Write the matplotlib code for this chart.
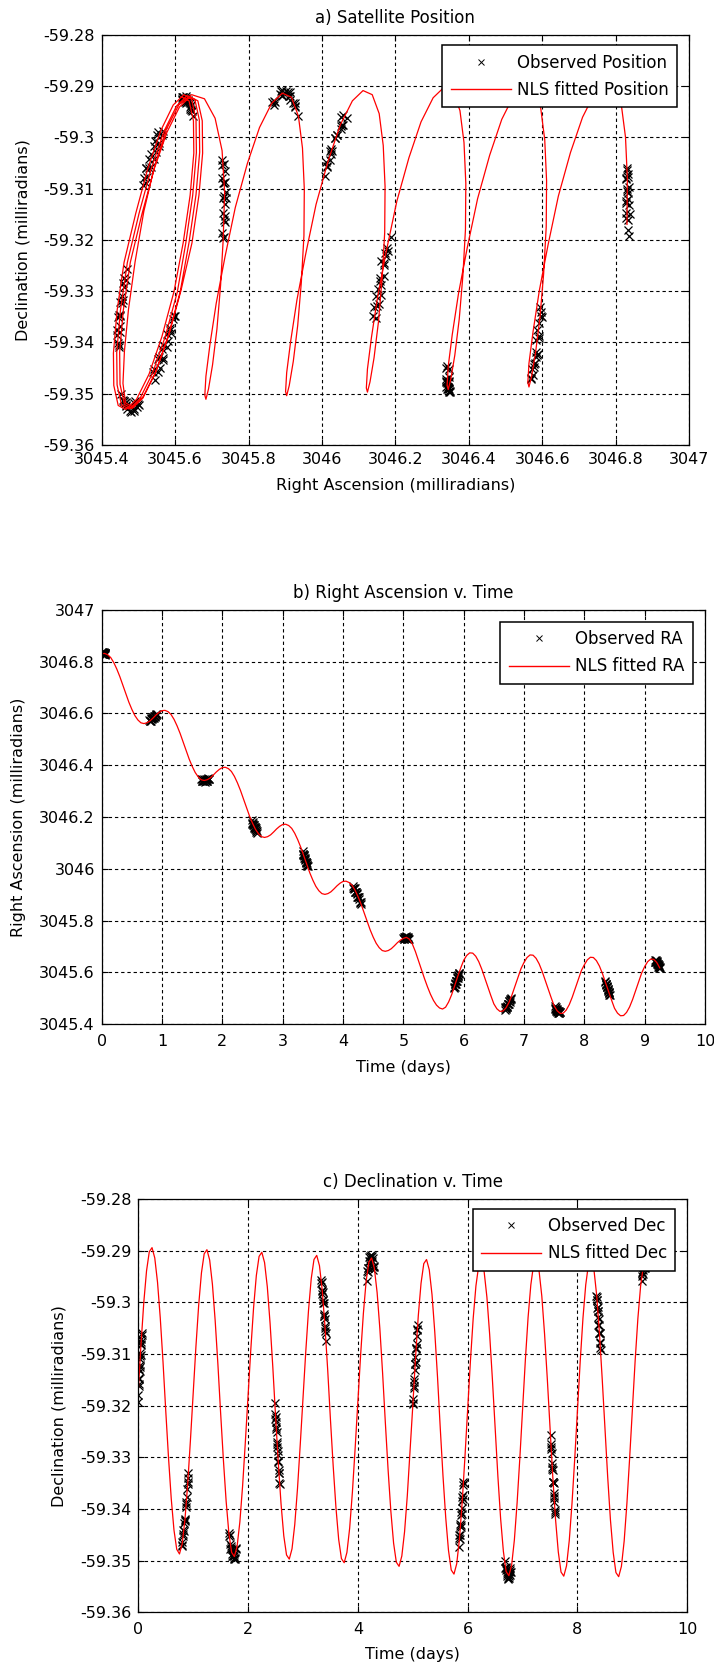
import numpy as np
import matplotlib
matplotlib.use("Agg")
import matplotlib.pyplot as plt
from matplotlib.lines import Line2D

# ---------------------------------------------------------------------------
# Fitted orbit, sampled every 0.05 day from t = 0 to t = 9.25 days
# ---------------------------------------------------------------------------
t_fit = np.linspace(0.0, 9.25, 186)

ra_fit = [
    # day 0
    3046.831, 3046.832, 3046.827, 3046.816, 3046.797, 3046.772, 3046.743, 3046.710, 3046.677, 3046.644,
    3046.616, 3046.592, 3046.575, 3046.564, 3046.561, 3046.564, 3046.571, 3046.582, 3046.594, 3046.604,
    # day 1
    3046.611, 3046.612, 3046.607, 3046.596, 3046.577, 3046.552, 3046.523, 3046.490, 3046.457, 3046.424,
    3046.396, 3046.372, 3046.355, 3046.344, 3046.341, 3046.344, 3046.351, 3046.362, 3046.374, 3046.384,
    # day 2
    3046.391, 3046.392, 3046.387, 3046.376, 3046.357, 3046.332, 3046.303, 3046.270, 3046.237, 3046.204,
    3046.176, 3046.152, 3046.135, 3046.124, 3046.121, 3046.124, 3046.131, 3046.142, 3046.154, 3046.164,
    # day 3
    3046.171, 3046.172, 3046.167, 3046.156, 3046.137, 3046.112, 3046.083, 3046.050, 3046.017, 3045.984,
    3045.956, 3045.932, 3045.915, 3045.904, 3045.901, 3045.904, 3045.911, 3045.922, 3045.934, 3045.944,
    # day 4
    3045.951, 3045.952, 3045.947, 3045.936, 3045.917, 3045.892, 3045.863, 3045.830, 3045.797, 3045.764,
    3045.736, 3045.712, 3045.695, 3045.684, 3045.681, 3045.684, 3045.691, 3045.702, 3045.714, 3045.724,
    # day 5
    3045.731, 3045.735, 3045.728, 3045.709, 3045.680, 3045.645, 3045.610, 3045.576, 3045.544, 3045.515,
    3045.491, 3045.473, 3045.462, 3045.458, 3045.465, 3045.485, 3045.513, 3045.547, 3045.583, 3045.616,
    # day 6
    3045.646, 3045.665, 3045.675, 3045.674, 3045.662, 3045.641, 3045.612, 3045.578, 3045.543, 3045.510,
    3045.478, 3045.459, 3045.449, 3045.450, 3045.462, 3045.483, 3045.512, 3045.546, 3045.581, 3045.614,
    # day 7
    3045.638, 3045.657, 3045.667, 3045.666, 3045.654, 3045.633, 3045.604, 3045.570, 3045.535, 3045.502,
    3045.470, 3045.451, 3045.441, 3045.442, 3045.454, 3045.475, 3045.504, 3045.538, 3045.573, 3045.606,
    # day 8
    3045.629, 3045.648, 3045.658, 3045.657, 3045.645, 3045.624, 3045.595, 3045.561, 3045.526, 3045.493,
    3045.461, 3045.442, 3045.432, 3045.433, 3045.445, 3045.466, 3045.495, 3045.529, 3045.564, 3045.597,
    # day 9
    3045.622, 3045.641, 3045.651, 3045.650, 3045.638, 3045.617,
]

dec_fit = [
    # day 0
    -59.3170, -59.3080, -59.3000, -59.2939, -59.2902, -59.2894, -59.2914, -59.2961, -59.3030, -59.3115,
    -59.3210, -59.3300, -59.3380, -59.3441, -59.3478, -59.3487, -59.3467, -59.3420, -59.3351, -59.3266,
    # day 1
    -59.3175, -59.3085, -59.3005, -59.2943, -59.2906, -59.2898, -59.2918, -59.2965, -59.3035, -59.3120,
    -59.3215, -59.3305, -59.3385, -59.3447, -59.3484, -59.3492, -59.3472, -59.3425, -59.3355, -59.3270,
    # day 2
    -59.3180, -59.3090, -59.3010, -59.2948, -59.2911, -59.2903, -59.2923, -59.2970, -59.3040, -59.3125,
    -59.3220, -59.3310, -59.3390, -59.3452, -59.3489, -59.3497, -59.3477, -59.3430, -59.3360, -59.3275,
    # day 3
    -59.3186, -59.3096, -59.3016, -59.2954, -59.2917, -59.2909, -59.2929, -59.2976, -59.3046, -59.3131,
    -59.3227, -59.3317, -59.3397, -59.3459, -59.3496, -59.3504, -59.3484, -59.3437, -59.3367, -59.3282,
    # day 4
    -59.3192, -59.3101, -59.3021, -59.2959, -59.2922, -59.2914, -59.2934, -59.2981, -59.3051, -59.3137,
    -59.3233, -59.3324, -59.3404, -59.3466, -59.3503, -59.3511, -59.3491, -59.3444, -59.3374, -59.3288,
    # day 5
    -59.3200, -59.3107, -59.3026, -59.2963, -59.2925, -59.2917, -59.2937, -59.2985, -59.3057, -59.3144,
    -59.3243, -59.3336, -59.3417, -59.3480, -59.3518, -59.3526, -59.3506, -59.3458, -59.3386, -59.3299,
    # day 6
    -59.3206, -59.3113, -59.3031, -59.2968, -59.2929, -59.2921, -59.2941, -59.2990, -59.3062, -59.3149,
    -59.3244, -59.3337, -59.3419, -59.3482, -59.3521, -59.3529, -59.3509, -59.3460, -59.3388, -59.3301,
    # day 7
    -59.3205, -59.3112, -59.3029, -59.2966, -59.2927, -59.2919, -59.2939, -59.2988, -59.3061, -59.3148,
    -59.3244, -59.3338, -59.3420, -59.3483, -59.3522, -59.3530, -59.3510, -59.3461, -59.3389, -59.3302,
    # day 8
    -59.3207, -59.3113, -59.3030, -59.2966, -59.2926, -59.2917, -59.2937, -59.2987, -59.3060, -59.3148,
    -59.3244, -59.3338, -59.3421, -59.3484, -59.3523, -59.3531, -59.3511, -59.3462, -59.3389, -59.3301,
    # day 9
    -59.3206, -59.3113, -59.3031, -59.2968, -59.2929, -59.2921,
]

# ---------------------------------------------------------------------------
# Observation passes (time in days, RA and Dec in milliradians)
# ---------------------------------------------------------------------------
obs_t = [
    0.000, 0.007, 0.013, 0.020, 0.027, 0.033, 0.040, 0.047, 0.053, 0.060,
    0.790, 0.803, 0.817, 0.830, 0.843, 0.857, 0.870, 0.883, 0.897, 0.910,
    1.650, 1.664, 1.679, 1.693, 1.708, 1.722, 1.737, 1.751, 1.766, 1.780,
    2.490, 2.499, 2.508, 2.517, 2.526, 2.534, 2.543, 2.552, 2.561, 2.570,
    3.330, 3.339, 3.348, 3.357, 3.366, 3.374, 3.383, 3.392, 3.401, 3.410,
    4.160, 4.176, 4.191, 4.207, 4.222, 4.238, 4.253, 4.269, 4.284, 4.300,
    5.000, 5.010, 5.020, 5.030, 5.040, 5.050, 5.060, 5.070, 5.080, 5.090,
    5.840, 5.849, 5.858, 5.867, 5.876, 5.884, 5.893, 5.902, 5.911, 5.920,
    6.680, 6.691, 6.702, 6.713, 6.724, 6.736, 6.747, 6.758, 6.769, 6.780,
    7.510, 7.519, 7.528, 7.537, 7.546, 7.554, 7.563, 7.572, 7.581, 7.590,
    8.350, 8.358, 8.366, 8.373, 8.381, 8.389, 8.397, 8.404, 8.412, 8.420,
    9.170, 9.179, 9.188, 9.197, 9.206, 9.214, 9.223, 9.232, 9.241, 9.250,
    0.003, 0.010, 0.017, 0.023, 0.030, 0.037, 0.043, 0.050, 0.057, 0.063,
    0.797, 0.810, 0.823, 0.837, 0.850, 0.863, 0.877, 0.890, 0.903, 0.907,
    1.657, 1.671, 1.686, 1.700, 1.715, 1.729, 1.744, 1.758, 1.773, 1.740,
    2.494, 2.503, 2.512, 2.521, 2.530, 2.539, 2.547, 2.556, 2.565, 2.574,
    3.334, 3.343, 3.352, 3.361, 3.370, 3.379, 3.388, 3.397, 3.406, 3.414,
    4.168, 4.184, 4.199, 4.215, 4.230, 4.246, 4.261, 4.277, 4.292, 4.226,
    5.005, 5.015, 5.025, 5.035, 5.045, 5.055, 5.065, 5.075, 5.085, 5.047,
    5.844, 5.853, 5.862, 5.871, 5.880, 5.889, 5.898, 5.906, 5.915, 5.924,
    6.685, 6.696, 6.707, 6.718, 6.730, 6.741, 6.752, 6.763, 6.774, 6.778,
    7.514, 7.523, 7.532, 7.541, 7.550, 7.559, 7.568, 7.577, 7.586, 7.593,
    8.354, 8.362, 8.370, 8.377, 8.385, 8.393, 8.401, 8.408, 8.416, 8.346,
    9.174, 9.183, 9.192, 9.201, 9.210, 9.219, 9.228, 9.236, 9.245, 9.248,
]

obs_ra = [
    3046.836, 3046.828, 3046.834, 3046.829, 3046.837, 3046.830, 3046.833, 3046.827, 3046.835, 3046.831,
    3046.574, 3046.569, 3046.581, 3046.577, 3046.585, 3046.582, 3046.591, 3046.586, 3046.596, 3046.597,
    3046.346, 3046.339, 3046.344, 3046.338, 3046.343, 3046.340, 3046.346, 3046.341, 3046.349, 3046.345,
    3046.187, 3046.173, 3046.174, 3046.162, 3046.168, 3046.158, 3046.161, 3046.148, 3046.149, 3046.140,
    3046.067, 3046.052, 3046.053, 3046.051, 3046.036, 3046.035, 3046.022, 3046.026, 3046.014, 3046.013,
    3045.935, 3045.922, 3045.926, 3045.912, 3045.910, 3045.892, 3045.892, 3045.885, 3045.869, 3045.865,
    3045.734, 3045.729, 3045.735, 3045.731, 3045.738, 3045.733, 3045.736, 3045.729, 3045.733, 3045.727,
    3045.544, 3045.543, 3045.558, 3045.555, 3045.568, 3045.566, 3045.581, 3045.585, 3045.586, 3045.599,
    3045.454, 3045.464, 3045.461, 3045.470, 3045.467, 3045.479, 3045.478, 3045.489, 3045.491, 3045.502,
    3045.470, 3045.459, 3045.460, 3045.450, 3045.455, 3045.451, 3045.444, 3045.451, 3045.442, 3045.446,
    3045.564, 3045.551, 3045.555, 3045.543, 3045.543, 3045.529, 3045.530, 3045.520, 3045.522, 3045.512,
    3045.649, 3045.640, 3045.643, 3045.636, 3045.641, 3045.630, 3045.631, 3045.621, 3045.623, 3045.618,
    3046.833, 3046.838, 3046.829, 3046.834, 3046.828, 3046.836, 3046.830, 3046.834, 3046.829, 3046.832,
    3046.569, 3046.578, 3046.572, 3046.582, 3046.588, 3046.582, 3046.590, 3046.591, 3046.599, 3046.594,
    3046.340, 3046.346, 3046.339, 3046.346, 3046.337, 3046.344, 3046.338, 3046.348, 3046.346, 3046.347,
    3046.176, 3046.180, 3046.168, 3046.170, 3046.157, 3046.160, 3046.152, 3046.156, 3046.143, 3046.146,
    3046.057, 3046.058, 3046.054, 3046.041, 3046.041, 3046.026, 3046.027, 3046.023, 3046.010, 3046.009,
    3045.926, 3045.927, 3045.912, 3045.912, 3045.907, 3045.892, 3045.889, 3045.872, 3045.870, 3045.901,
    3045.730, 3045.736, 3045.732, 3045.737, 3045.731, 3045.734, 3045.730, 3045.736, 3045.728, 3045.739,
    3045.540, 3045.553, 3045.554, 3045.567, 3045.565, 3045.577, 3045.577, 3045.590, 3045.594, 3045.596,
    3045.462, 3045.458, 3045.467, 3045.465, 3045.477, 3045.477, 3045.489, 3045.487, 3045.498, 3045.496,
    3045.462, 3045.465, 3045.456, 3045.459, 3045.447, 3045.451, 3045.451, 3045.442, 3045.445, 3045.447,
    3045.554, 3045.556, 3045.545, 3045.547, 3045.534, 3045.535, 3045.520, 3045.523, 3045.514, 3045.567,
    3045.641, 3045.646, 3045.638, 3045.643, 3045.631, 3045.632, 3045.622, 3045.627, 3045.618, 3045.620,
]

obs_dec = [
    -59.3192, -59.3158, -59.3161, -59.3129, -59.3133, -59.3104, -59.3109, -59.3082, -59.3071, -59.3060,
    -59.3463, -59.3470, -59.3441, -59.3443, -59.3424, -59.3419, -59.3387, -59.3376, -59.3348, -59.3340,
    -59.3452, -59.3450, -59.3477, -59.3475, -59.3488, -59.3480, -59.3496, -59.3490, -59.3494, -59.3475,
    -59.3195, -59.3226, -59.3231, -59.3242, -59.3271, -59.3274, -59.3307, -59.3309, -59.3330, -59.3349,
    -59.2963, -59.2961, -59.2983, -59.2979, -59.3001, -59.3002, -59.3027, -59.3033, -59.3056, -59.3059,
    -59.2959, -59.2934, -59.2933, -59.2912, -59.2920, -59.2908, -59.2920, -59.2915, -59.2938, -59.2931,
    -59.3195, -59.3187, -59.3154, -59.3148, -59.3119, -59.3115, -59.3088, -59.3080, -59.3052, -59.3044,
    -59.3474, -59.3451, -59.3450, -59.3429, -59.3430, -59.3405, -59.3398, -59.3376, -59.3372, -59.3348,
    -59.3500, -59.3518, -59.3514, -59.3529, -59.3522, -59.3535, -59.3525, -59.3529, -59.3515, -59.3522,
    -59.3256, -59.3284, -59.3292, -59.3322, -59.3324, -59.3347, -59.3350, -59.3379, -59.3386, -59.3410,
    -59.2995, -59.2995, -59.3017, -59.3017, -59.3043, -59.3043, -59.3060, -59.3060, -59.3089, -59.3093,
    -59.2958, -59.2941, -59.2946, -59.2928, -59.2933, -59.2919, -59.2934, -59.2922, -59.2926, -59.2928,
    -59.3180, -59.3149, -59.3147, -59.3121, -59.3125, -59.3098, -59.3101, -59.3077, -59.3080, -59.3063,
    -59.3472, -59.3449, -59.3452, -59.3428, -59.3422, -59.3396, -59.3391, -59.3362, -59.3351, -59.3331,
    -59.3446, -59.3468, -59.3471, -59.3491, -59.3478, -59.3491, -59.3487, -59.3497, -59.3478, -59.3494,
    -59.3216, -59.3221, -59.3245, -59.3250, -59.3280, -59.3288, -59.3296, -59.3325, -59.3331, -59.3352,
    -59.2956, -59.2977, -59.2976, -59.2995, -59.2995, -59.3023, -59.3027, -59.3045, -59.3049, -59.3075,
    -59.2940, -59.2941, -59.2919, -59.2928, -59.2912, -59.2918, -59.2910, -59.2931, -59.2929, -59.2910,
    -59.3196, -59.3166, -59.3161, -59.3131, -59.3119, -59.3090, -59.3089, -59.3065, -59.3054, -59.3106,
    -59.3457, -59.3458, -59.3432, -59.3434, -59.3412, -59.3410, -59.3384, -59.3381, -59.3354, -59.3349,
    -59.3515, -59.3512, -59.3525, -59.3517, -59.3534, -59.3524, -59.3533, -59.3518, -59.3521, -59.3527,
    -59.3274, -59.3279, -59.3310, -59.3318, -59.3347, -59.3348, -59.3369, -59.3375, -59.3402, -59.3405,
    -59.2989, -59.3011, -59.3008, -59.3029, -59.3033, -59.3059, -59.3060, -59.3077, -59.3079, -59.2987,
    -59.2944, -59.2949, -59.2932, -59.2937, -59.2923, -59.2932, -59.2922, -59.2932, -59.2921, -59.2926,
]

# Axis ticks and their printed labels
dec_ticks = [-59.36, -59.35, -59.34, -59.33, -59.32, -59.31, -59.30, -59.29, -59.28]
dec_labels = ["-59.36", "-59.35", "-59.34", "-59.33", "-59.32", "-59.31", "-59.3", "-59.29", "-59.28"]
ra_ticks = [3045.4, 3045.6, 3045.8, 3046.0, 3046.2, 3046.4, 3046.6, 3046.8, 3047.0]
ra_labels = ["3045.4", "3045.6", "3045.8", "3046", "3046.2", "3046.4", "3046.6", "3046.8", "3047"]
day_ticks_b = [0, 1, 2, 3, 4, 5, 6, 7, 8, 9, 10]
day_ticks_c = [0, 2, 4, 6, 8, 10]

# ---------------------------------------------------------------------------
plt.rcParams["font.family"] = ["DejaVu Sans"]
plt.rcParams["font.size"] = 11.5

FIT_COLOR = "#ff0000"
GRID_DASH = (0, (3.0, 2.6))
TICK_FS = 11.5
LABEL_FS = 11.5
TITLE_FS = 12
LEGEND_FS = 12
OBS_STYLE = dict(linestyle="none", marker="x", color="black",
                 markersize=6, markeredgewidth=0.9)

fig = plt.figure(figsize=(7.14, 16.67), dpi=100)
fig.patch.set_facecolor("white")

ax_a = fig.add_axes([0.1424, 0.7331, 0.8226, 0.2461])
ax_b = fig.add_axes([0.1424, 0.3857, 0.8450, 0.2484])
ax_c = fig.add_axes([0.1937, 0.0328, 0.7689, 0.2479])


def style_axes(ax, xpad):
    ax.set_axisbelow(True)
    ax.grid(True, color="black", linestyle=GRID_DASH, linewidth=0.8)
    ax.tick_params(direction="in", top=True, right=True, length=4, width=0.8,
                   labelsize=TICK_FS, colors="black")
    ax.tick_params(axis="x", pad=xpad)
    ax.tick_params(axis="y", pad=5)
    for sp in ax.spines.values():
        sp.set_linewidth(0.9)
        sp.set_color("black")


def add_legend(ax, labels, anchor):
    handles = [
        Line2D([], [], linestyle="none", marker="x", color="black",
               markersize=5, markeredgewidth=0.7),
        Line2D([], [], color=FIT_COLOR, linewidth=1.0),
    ]
    leg = ax.legend(handles, labels, loc="upper right", bbox_to_anchor=anchor,
                    borderaxespad=0.0, fancybox=False, framealpha=1.0,
                    edgecolor="black", handlelength=3.6, handletextpad=0.4,
                    borderpad=0.5, labelspacing=0.55, fontsize=LEGEND_FS)
    leg.get_frame().set_linewidth(1.1)
    return leg


# a) position on the sky
ax_a.plot(obs_ra, obs_dec, **OBS_STYLE)
ax_a.plot(ra_fit, dec_fit, color=FIT_COLOR, linewidth=0.9)
ax_a.set_xlim(3045.4, 3047.0)
ax_a.set_ylim(-59.36, -59.28)
ax_a.set_xticks(ra_ticks)
ax_a.set_xticklabels(ra_labels)
ax_a.set_yticks(dec_ticks)
ax_a.set_yticklabels(dec_labels)
style_axes(ax_a, 5)
ax_a.set_title("a) Satellite Position", fontsize=TITLE_FS, pad=8.5)
ax_a.set_xlabel("Right Ascension (milliradians)", fontsize=LABEL_FS)
ax_a.set_ylabel("Declination (milliradians)", fontsize=LABEL_FS)
ax_a.xaxis.set_label_coords(0.5, -0.080)
ax_a.yaxis.set_label_coords(-0.121, 0.5)
add_legend(ax_a, ["Observed Position", "NLS fitted Position"], (0.98, 0.974))

# b) right ascension against time
ax_b.plot(obs_t, obs_ra, **OBS_STYLE)
ax_b.plot(t_fit, ra_fit, color=FIT_COLOR, linewidth=0.9)
ax_b.set_xlim(0, 10)
ax_b.set_ylim(3045.4, 3047.0)
ax_b.set_xticks(day_ticks_b)
ax_b.set_xticklabels([str(d) for d in day_ticks_b])
ax_b.set_yticks(ra_ticks)
ax_b.set_yticklabels(ra_labels)
style_axes(ax_b, 7)
ax_b.set_title("b) Right Ascension v. Time", fontsize=TITLE_FS, pad=8.5)
ax_b.set_xlabel("Time (days)", fontsize=LABEL_FS)
ax_b.set_ylabel("Right Ascension (milliradians)", fontsize=LABEL_FS)
ax_b.xaxis.set_label_coords(0.5, -0.088)
ax_b.yaxis.set_label_coords(-0.1246, 0.5)
add_legend(ax_b, ["Observed RA", "NLS fitted RA"], (0.98, 0.971))

# c) declination against time
ax_c.plot(obs_t, obs_dec, **OBS_STYLE)
ax_c.plot(t_fit, dec_fit, color=FIT_COLOR, linewidth=0.9)
ax_c.set_xlim(0, 10)
ax_c.set_ylim(-59.36, -59.28)
ax_c.set_xticks(day_ticks_c)
ax_c.set_xticklabels([str(d) for d in day_ticks_c])
ax_c.set_yticks(dec_ticks)
ax_c.set_yticklabels(dec_labels)
style_axes(ax_c, 7)
ax_c.set_title("c) Declination v. Time", fontsize=TITLE_FS, pad=9)
ax_c.set_xlabel("Time (days)", fontsize=LABEL_FS)
ax_c.set_ylabel("Declination (milliradians)", fontsize=LABEL_FS)
ax_c.xaxis.set_label_coords(0.5, -0.084)
ax_c.yaxis.set_label_coords(-0.130, 0.5)
add_legend(ax_c, ["Observed Dec", "NLS fitted Dec"], (0.978, 0.976))

fig.savefig("out.png", dpi=100, facecolor="white")
